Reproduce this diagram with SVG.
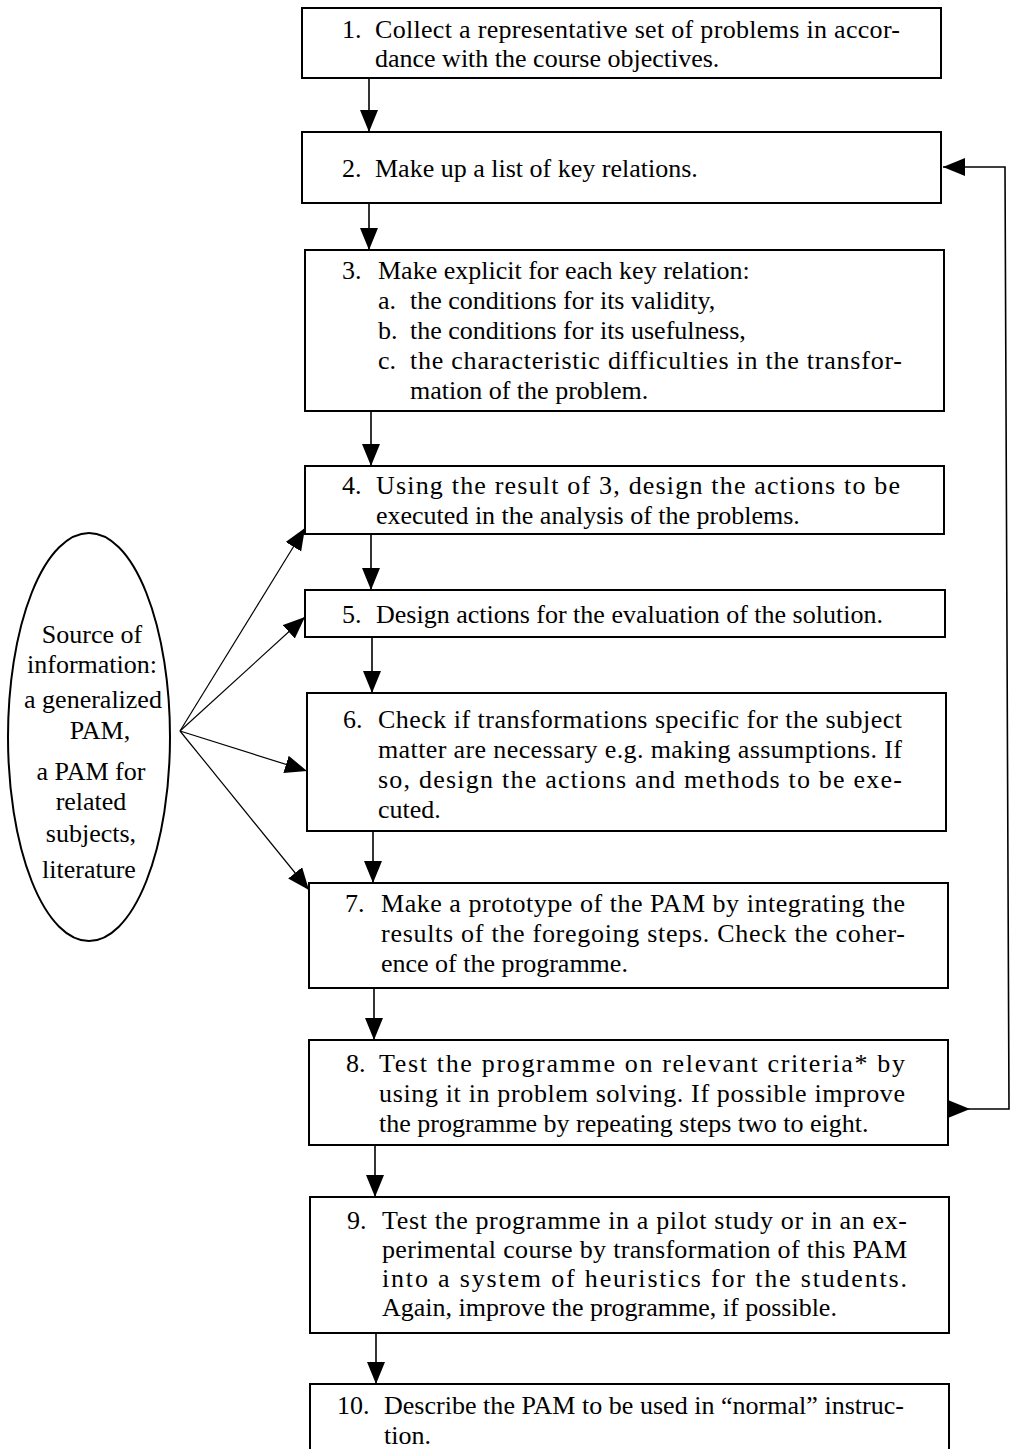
<svg xmlns="http://www.w3.org/2000/svg" width="1017" height="1449" viewBox="0 0 1017 1449">
<style>
.box{fill:#fff;stroke:#000;stroke-width:2}
.t{font-family:"Liberation Serif","Times New Roman",serif;font-size:26px;fill:#000}
.e{font-family:"Liberation Serif","Times New Roman",serif;font-size:26px;fill:#000;text-anchor:middle}
.c{fill:none;stroke:#000;stroke-width:1.6}
.d{fill:none;stroke:#000;stroke-width:1.2}
</style>
<defs>
<marker id="ah" markerUnits="userSpaceOnUse" markerWidth="24" markerHeight="20" refX="22" refY="9" orient="auto">
<path d="M0,0 L22,9 L0,18 Z" fill="#000"/>
</marker>
<marker id="as" markerUnits="userSpaceOnUse" markerWidth="24" markerHeight="20" refX="0" refY="9" orient="auto">
<path d="M0,0 L22,9 L0,18 Z" fill="#000"/>
</marker>
</defs>
<rect width="1017" height="1449" fill="#fff"/>

<g id="connectors">
<line class="c" x1="369" y1="78" x2="369" y2="132" marker-end="url(#ah)"/>
<line class="c" x1="369" y1="203" x2="369" y2="250" marker-end="url(#ah)"/>
<line class="c" x1="371" y1="411" x2="371" y2="466" marker-end="url(#ah)"/>
<line class="c" x1="371" y1="534" x2="371" y2="590" marker-end="url(#ah)"/>
<line class="c" x1="372" y1="637" x2="372" y2="693" marker-end="url(#ah)"/>
<line class="c" x1="373" y1="831" x2="373" y2="883" marker-end="url(#ah)"/>
<line class="c" x1="374" y1="988" x2="374" y2="1040" marker-end="url(#ah)"/>
<line class="c" x1="375" y1="1145" x2="375" y2="1197" marker-end="url(#ah)"/>
<line class="c" x1="376" y1="1333" x2="376" y2="1384" marker-end="url(#ah)"/>
<line class="d" x1="180" y1="731" x2="305" y2="528" marker-end="url(#ah)"/>
<line class="d" x1="180" y1="731" x2="305" y2="617" marker-end="url(#ah)"/>
<line class="d" x1="180" y1="731" x2="307" y2="771" marker-end="url(#ah)"/>
<line class="d" x1="180" y1="731" x2="309" y2="890" marker-end="url(#ah)"/>
<path class="c" d="M948,1109 L1009,1109 L1005,167 L943,167" marker-start="url(#as)" marker-end="url(#ah)"/>
</g>

<g id="source">
<ellipse cx="89" cy="737" rx="81" ry="204" fill="#fff" stroke="#000" stroke-width="2"/>
<text class="e" x="92" y="643">Source of</text>
<text class="e" x="92" y="673">information:</text>
<text class="e" x="93" y="708">a generalized</text>
<text class="e" x="100" y="739">PAM,</text>
<text class="e" x="91" y="780">a PAM for</text>
<text class="e" x="91" y="810">related</text>
<text class="e" x="91" y="842">subjects,</text>
<text class="e" x="89" y="878">literature</text>
</g>

<g id="step1">
<rect class="box" x="302" y="8" width="639" height="70"/>
<text class="t" x="342" y="38">1.</text>
<text class="t" x="375" y="38" textLength="525" lengthAdjust="spacing">Collect a representative set of problems in accor-</text>
<text class="t" x="375" y="67">dance with the course objectives.</text>
</g>

<g id="step2">
<rect class="box" x="302" y="132" width="639" height="71"/>
<text class="t" x="342" y="177">2.</text>
<text class="t" x="375" y="177">Make up a list of key relations.</text>
</g>

<g id="step3">
<rect class="box" x="305" y="250" width="639" height="161"/>
<text class="t" x="342" y="279">3.</text>
<text class="t" x="378" y="279">Make explicit for each key relation:</text>
<text class="t" x="378" y="309">a.</text>
<text class="t" x="410" y="309">the conditions for its validity,</text>
<text class="t" x="378" y="339">b.</text>
<text class="t" x="410" y="339">the conditions for its usefulness,</text>
<text class="t" x="378" y="369">c.</text>
<text class="t" x="410" y="369" textLength="492" lengthAdjust="spacing">the characteristic difficulties in the transfor-</text>
<text class="t" x="410" y="399">mation of the problem.</text>
</g>

<g id="step4">
<rect class="box" x="305" y="466" width="639" height="68"/>
<text class="t" x="342" y="494">4.</text>
<text class="t" x="376" y="494" textLength="524" lengthAdjust="spacing">Using the result of 3, design the actions to be</text>
<text class="t" x="376" y="524">executed in the analysis of the problems.</text>
</g>

<g id="step5">
<rect class="box" x="305" y="590" width="640" height="47"/>
<text class="t" x="342" y="623">5.</text>
<text class="t" x="376" y="623">Design actions for the evaluation of the solution.</text>
</g>

<g id="step6">
<rect class="box" x="307" y="693" width="639" height="138"/>
<text class="t" x="343" y="728">6.</text>
<text class="t" x="378" y="728" textLength="524" lengthAdjust="spacing">Check if transformations specific for the subject</text>
<text class="t" x="378" y="758" textLength="524" lengthAdjust="spacing">matter are necessary e.g. making assumptions. If</text>
<text class="t" x="378" y="788" textLength="524" lengthAdjust="spacing">so, design the actions and methods to be exe-</text>
<text class="t" x="378" y="818">cuted.</text>
</g>

<g id="step7">
<rect class="box" x="309" y="883" width="639" height="105"/>
<text class="t" x="345" y="912">7.</text>
<text class="t" x="381" y="912" textLength="524" lengthAdjust="spacing">Make a prototype of the PAM by integrating the</text>
<text class="t" x="381" y="942" textLength="524" lengthAdjust="spacing">results of the foregoing steps. Check the coher-</text>
<text class="t" x="381" y="972">ence of the programme.</text>
</g>

<g id="step8">
<rect class="box" x="309" y="1040" width="639" height="105"/>
<text class="t" x="346" y="1072">8.</text>
<text class="t" x="379" y="1072" textLength="526" lengthAdjust="spacing">Test the programme on relevant criteria* by</text>
<text class="t" x="379" y="1102" textLength="526" lengthAdjust="spacing">using it in problem solving. If possible improve</text>
<text class="t" x="379" y="1132">the programme by repeating steps two to eight.</text>
</g>

<g id="step9">
<rect class="box" x="310" y="1197" width="639" height="136"/>
<text class="t" x="347" y="1229">9.</text>
<text class="t" x="382" y="1229" textLength="525" lengthAdjust="spacing">Test the programme in a pilot study or in an ex-</text>
<text class="t" x="382" y="1258" textLength="525" lengthAdjust="spacing">perimental course by transformation of this PAM</text>
<text class="t" x="382" y="1287" textLength="525" lengthAdjust="spacing">into a system of heuristics for the students.</text>
<text class="t" x="382" y="1316">Again, improve the programme, if possible.</text>
</g>

<g id="step10">
<rect class="box" x="310" y="1384" width="639" height="80"/>
<text class="t" x="337" y="1414">10.</text>
<text class="t" x="384" y="1414" textLength="520" lengthAdjust="spacing">Describe the PAM to be used in “normal” instruc-</text>
<text class="t" x="384" y="1444">tion.</text>
</g>
</svg>
